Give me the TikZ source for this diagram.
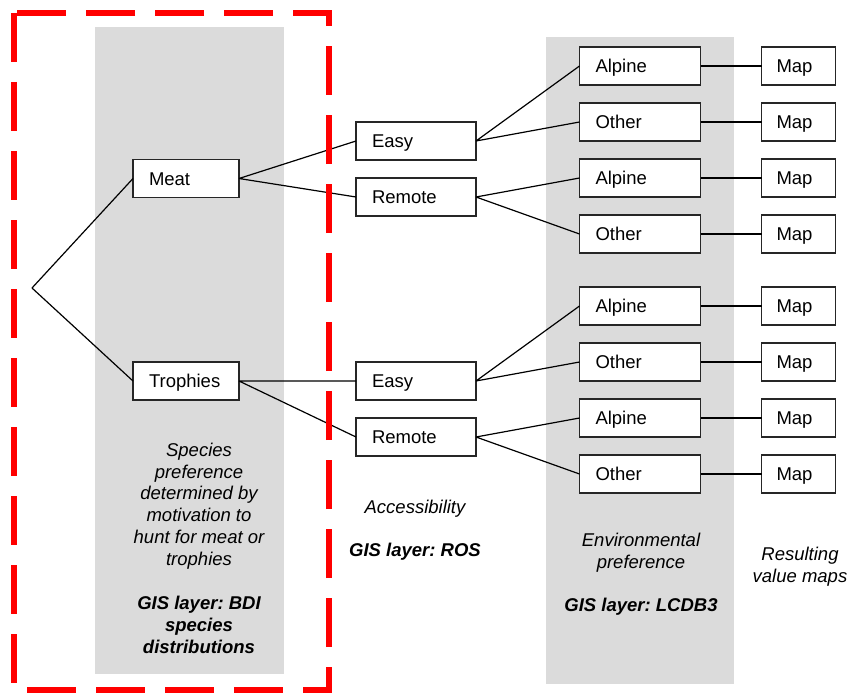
\documentclass[tikz,border=0pt]{standalone}
\usepackage{fontspec}
\setmainfont{Liberation Sans}
\usetikzlibrary{positioning}
\definecolor{dashred}{RGB}{255,0,0}
\definecolor{bandgray}{RGB}{219,219,219}
\frenchspacing
\tikzset{
	box/.style={draw=black!85, line width=1.4pt, fill=white, outer sep=0pt, minimum height=38pt,
		inner xsep=16pt, text height=14pt, text depth=1pt, align=left, font=\fontsize{18.5}{21.7}\selectfont},
	motive/.style={box, text width=74pt},
	access/.style={box, text width=88pt},
	habitat/.style={box, text width=89pt},
	mapbox/.style={box, text width=44pt, inner xsep=15pt},
	note/.style={align=center, font=\fontsize{18.5}{21.7}\selectfont\itshape},
	gis/.style={align=center, font=\fontsize{18.5}{21.7}\selectfont\bfseries\itshape},
	link/.style={line width=1.2pt}
}

\begin{document}
\begin{tikzpicture}[x=1pt, y=-1pt]
	\useasboundingbox (0,0) rectangle (851,698);
	% shaded columns
	\fill[bandgray] (95,27) rectangle (284,674);
	\fill[bandgray] (546,37) rectangle (734,684);

	\coordinate (root) at (32,288);
	\node[motive] (meat) at (186,178.5) {Meat};
	\node[motive] (troph) at (186,381) {Trophies};
		\node[access] (easyA) at (416,141) {Easy};
		\node[access, below=18pt of easyA] (remoteA) {Remote};
		\node[access] (easyB) at (416,381) {Easy};
		\node[access, below=18pt of easyB] (remoteB) {Remote};
			\node[habitat] (alpA) at (640,66) {Alpine};
			\node[habitat, below=18pt of alpA] (othA) {Other};
			\node[habitat, below=18pt of othA] (alpB) {Alpine};
			\node[habitat, below=18pt of alpB] (othB) {Other};
			\node[habitat] (alpC) at (640,306) {Alpine};
			\node[habitat, below=18pt of alpC] (othC) {Other};
			\node[habitat, below=18pt of othC] (alpD) {Alpine};
			\node[habitat, below=18pt of alpD] (othD) {Other};
				\node[mapbox, right=61pt of alpA] (mapA) {Map};
				\node[mapbox, right=61pt of othA] (mapB) {Map};
				\node[mapbox, right=61pt of alpB] (mapC) {Map};
				\node[mapbox, right=61pt of othB] (mapD) {Map};
				\node[mapbox, right=61pt of alpC] (mapE) {Map};
				\node[mapbox, right=61pt of othC] (mapF) {Map};
				\node[mapbox, right=61pt of alpD] (mapG) {Map};
				\node[mapbox, right=61pt of othD] (mapH) {Map};

	\draw[link] (root) -- (meat.west) (root) -- (troph.west);
	\draw[link] (meat.east) -- (easyA.west) (meat.east) -- (remoteA.west);
	\draw[link] (troph.east) -- (easyB.west) (troph.east) -- (remoteB.west);
	\draw[link] (easyA.east) -- (alpA.west) (easyA.east) -- (othA.west);
	\draw[link] (remoteA.east) -- (alpB.west) (remoteA.east) -- (othB.west);
	\draw[link] (easyB.east) -- (alpC.west) (easyB.east) -- (othC.west);
	\draw[link] (remoteB.east) -- (alpD.west) (remoteB.east) -- (othD.west);
	\draw[link] (alpA) -- (mapA) (othA) -- (mapB) (alpB) -- (mapC) (othB) -- (mapD);
	\draw[link] (alpC) -- (mapE) (othC) -- (mapF) (alpD) -- (mapG) (othD) -- (mapH);

	% column captions
	\node[note] (motivetxt) at (199,506) {Species\\preference\\determined by\\motivation to\\hunt for meat or\\trophies};
	\node[gis] (bdi) at (199,625) {GIS layer: BDI\\species\\distributions};
	\node[note] (accesstxt) at (415,509) {Accessibility};
	\node[gis] (ros) at (415,552) {GIS layer: ROS};
	\node[note] (envtxt) at (641,553) {Environmental\\preference};
	\node[gis] (lcdb) at (641,607) {GIS layer: LCDB3};
	\node[note] (maptxt) at (800,566.5) {Resulting\\value maps};

	% scope of the species layer
	\draw[dashred, line width=6pt, dash pattern=on 49pt off 20pt]
		(14,13) -- (14,690) -- (329,690) -- (329,13) -- cycle;
\end{tikzpicture}
\end{document}
